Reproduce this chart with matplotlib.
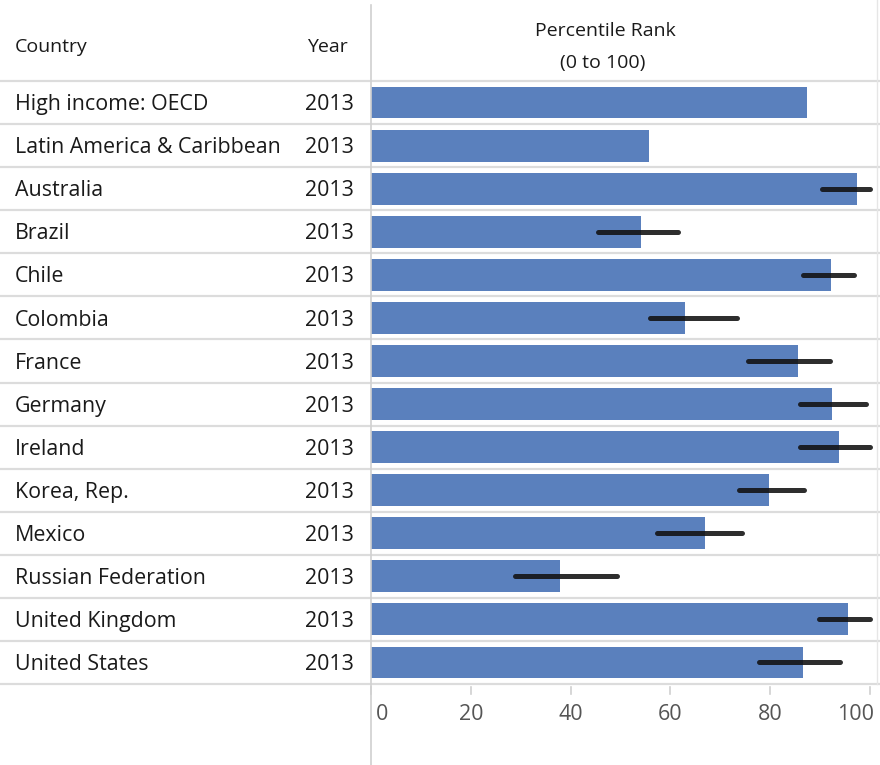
import matplotlib.pyplot as plt
import matplotlib.transforms as mtransforms
from matplotlib.lines import Line2D

countries = ["High income: OECD", "Latin America & Caribbean", "Australia", "Brazil",
             "Chile", "Colombia", "France", "Germany", "Ireland", "Korea, Rep.",
             "Mexico", "Russian Federation", "United Kingdom", "United States"]
years = ["2013"] * len(countries)
rank = [87.3, 55.8, 97.3, 54.1, 92.1, 62.9, 85.5, 92.3, 93.7, 79.8, 66.9, 37.9, 95.5, 86.6]
low = [None, None, 90.4, 45.5, 86.5, 56.0, 75.5, 85.9, 85.9, 73.7, 57.3, 28.8, 89.7, 77.8]
high = [None, None, 100.0, 61.5, 96.8, 73.3, 92.0, 99.1, 100.0, 86.7, 74.4, 49.2, 100.0, 93.9]
ticks = [0, 20, 40, 60, 80, 100]

plt.rcParams['font.family'] = ['Open Sans', 'DejaVu Sans']

W, H = 880, 765
fig = plt.figure(figsize=(W / 100, H / 100), dpi=100)

# bar panel: x 371..870 px, rows between y 81 and 684 px (from top)
x0, x1, ytop, ybot = 371, 870, 81, 684
ax = fig.add_axes([x0 / W, (H - ybot) / H, (x1 - x0) / W, (ybot - ytop) / H])
n = len(countries)
ax.set_xlim(0, 100)
ax.set_ylim(n - 0.5, -0.5)
ax.axis('off')

ax.barh(range(n), rank, height=0.74, color='#5a80bd', zorder=2)
for i in range(n):
    if low[i] is not None:
        ax.plot([low[i], high[i]], [i, i], color='#111111', lw=3.6, alpha=0.88,
                solid_capstyle='round', zorder=3, clip_on=False)

# row separators across the whole width
sep = '#dcdcdc'
for k in range(n + 1):
    y = (k - 0.5)
    ax.plot([-x0 / (x1 - x0) * 100, (W - x0) / (x1 - x0) * 100], [y, y],
            color=sep, lw=1.6, clip_on=False, zorder=1)

# row labels
tr = mtransforms.blended_transform_factory(fig.transFigure, ax.transData)
for i in range(n):
    ax.text(15 / W, i + 0.05, countries[i], transform=tr, ha='left', va='center',
            fontsize=15.4, color='#1a1a1a')
    ax.text(354 / W, i + 0.05, years[i], transform=tr, ha='right', va='center',
            fontsize=15.4, color='#1a1a1a')

# header
hdr = dict(va='center', fontsize=14, color='#1a1a1a')
fig.text(15 / W, 1 - 47 / H, "Country", ha='left', **hdr)
fig.text(307 / W, 1 - 47 / H, "Year", ha='left', **hdr)
fig.text(605 / W, 1 - 31 / H, "Percentile Rank", ha='center', **hdr)
fig.text(603 / W, 1 - 63 / H, "(0 to 100)", ha='center', **hdr)

# vertical dividers
fig.add_artist(Line2D([x0 / W, x0 / W], [0, 1 - 5 / H], transform=fig.transFigure,
                      color='#d0d0d0', lw=1.2))
fig.add_artist(Line2D([877 / W, 877 / W], [1 - 684 / H, 1], transform=fig.transFigure,
                      color='#e6e6e6', lw=1.0))

# x axis ticks and labels below the panel
trx = mtransforms.blended_transform_factory(ax.transData, fig.transFigure)
for t in ticks:
    ax.plot([t, t], [1 - 687 / H, 1 - 694 / H], transform=trx, color='#d0d0d0',
            lw=1.2, clip_on=False)
    ha = 'left' if t == 0 else ('right' if t == 100 else 'center')
    xoff = 1.0 if t == 0 else (0.8 if t == 100 else 0)
    ax.text(t + xoff, 1 - 715 / H, str(t), transform=trx, ha=ha, va='center',
            fontsize=15.5, color='#555555')

fig.savefig('out.png', dpi=100)
